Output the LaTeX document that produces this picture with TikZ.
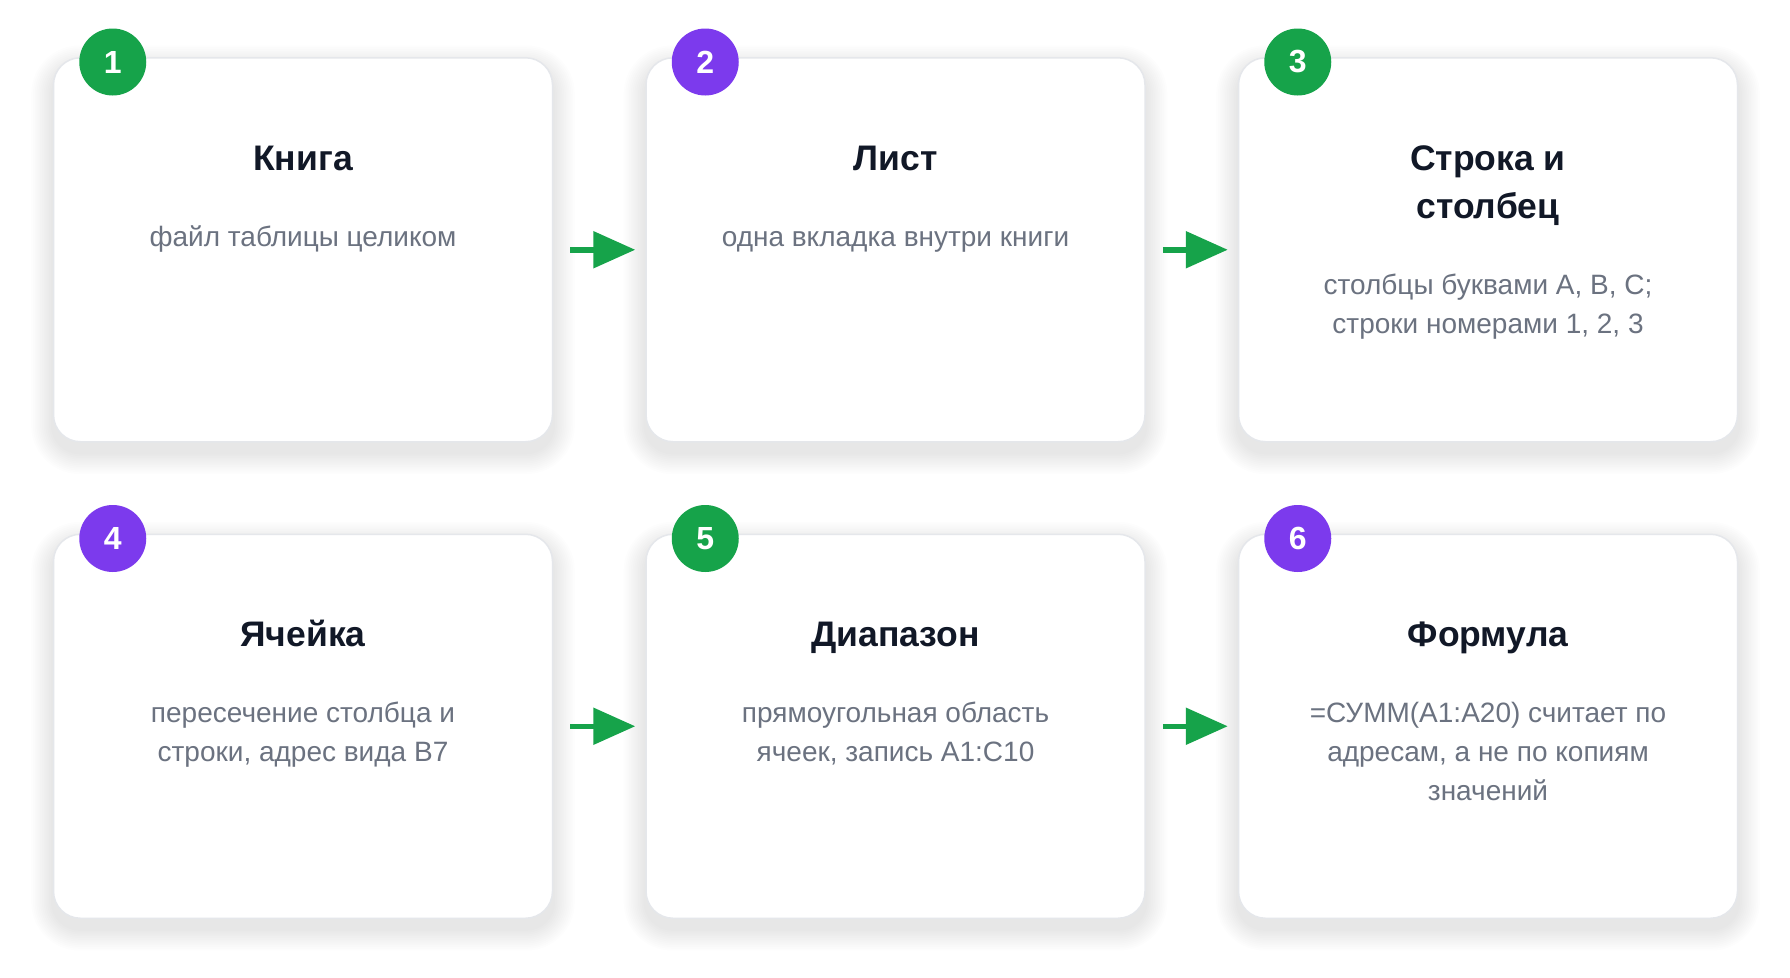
\documentclass[tikz,border=0pt]{standalone}
\usepackage{fontspec}
\setmainfont{Liberation Sans}
\usetikzlibrary{arrows.meta,calc,backgrounds}
\definecolor{grn}{HTML}{16A34A}
\definecolor{vio}{HTML}{7C3AED}
\definecolor{ttl}{HTML}{111827}
\definecolor{subc}{HTML}{6B7280}
\definecolor{bord}{HTML}{E5E7EB}
\definecolor{shd}{HTML}{1F2937}
\newcommand{\ml}[1]{\begin{tabular}[t]{@{}c@{}}#1\end{tabular}}
\begin{document}
\begin{tikzpicture}[x=1pt,y=-1pt,
  card/.style={draw=bord, line width=1.5pt, fill=white, rounded corners=27pt,
    minimum width=499pt, minimum height=384pt, anchor=north west, inner sep=0pt},
  badge/.style={circle, minimum size=67pt, inner sep=0pt, text=white,
    font=\fontsize{32}{32}\selectfont\bfseries},
  ttlstyle/.style={anchor=base, inner sep=0pt, text=ttl, font=\fontsize{35.5}{48}\selectfont\bfseries},
  substyle/.style={anchor=base, inner sep=0pt, text=subc, font=\fontsize{28}{39}\selectfont},
  flow/.style={draw=grn, line width=5.5pt, -{Triangle[length=42pt,width=36pt]}}]
\useasboundingbox (0,0) rectangle (1790,977);

% cards
\node[card] (c1) at (52.75,57) {};
\node[card] (c2) at (645.25,57) {};
\node[card] (c3) at (1237.75,57) {};
\node[card] (c4) at (52.75,533.5) {};
\node[card] (c5) at (645.25,533.5) {};
\node[card] (c6) at (1237.75,533.5) {};

% soft shadows
\begin{pgfonlayer}{background}
\fill[white] (0,0) rectangle (1790,977);
\foreach \c in {c1,c2,c3,c4,c5,c6}{
  \foreach \i in {1,...,12}{
    \fill[shd, opacity=0.006, rounded corners={27pt+1.8pt*\i}]
      ($(\c.north west)+(-1.8*\i,-1.8*\i+10)$) rectangle ($(\c.south east)+(1.8*\i,1.8*\i+10)$);
  }
}
\end{pgfonlayer}

% badges
\node[badge, fill=grn] (b1) at ($(c1.north west)+(60,5)$) {1};
\node[badge, fill=vio] (b2) at ($(c2.north west)+(60,5)$) {2};
\node[badge, fill=grn] (b3) at ($(c3.north west)+(60,5)$) {3};
\node[badge, fill=vio] (b4) at ($(c4.north west)+(60,5)$) {4};
\node[badge, fill=grn] (b5) at ($(c5.north west)+(60,5)$) {5};
\node[badge, fill=vio] (b6) at ($(c6.north west)+(60,5)$) {6};

% titles
\node[ttlstyle] (t1) at ($(c1.north)+(0,113)$) {Книга};
\node[ttlstyle] (t2) at ($(c2.north)+(0,113)$) {Лист};
\node[ttlstyle] (t3) at ($(c3.north)+(0,113)$) {\ml{Строка и\\столбец}};
\node[ttlstyle] (t4) at ($(c4.north)+(0,113)$) {Ячейка};
\node[ttlstyle] (t5) at ($(c5.north)+(0,113)$) {Диапазон};
\node[ttlstyle] (t6) at ($(c6.north)+(0,113)$) {Формула};

% subtitles
\node[substyle] (s1) at ($(c1.north)+(0,189)$) {файл таблицы целиком};
\node[substyle] (s2) at ($(c2.north)+(0,189)$) {одна вкладка внутри книги};
\node[substyle] (s3) at ($(c3.north)+(0,237)$) {\ml{столбцы буквами A, B, C;\\строки номерами 1, 2, 3}};
\node[substyle] (s4) at ($(c4.north)+(0,189)$) {\ml{пересечение столбца и\\строки, адрес вида B7}};
\node[substyle] (s5) at ($(c5.north)+(0,189)$) {\ml{прямоугольная область\\ячеек, запись A1:C10}};
\node[substyle] (s6) at ($(c6.north)+(0,189)$) {\ml{=СУММ(A1:A20) считает по\\адресам, а не по копиям\\значений}};

% arrows
\draw[flow] ($(c1.east)+(17,0)$) -- ($(c2.west)+(-10,0)$);
\draw[flow] ($(c2.east)+(17,0)$) -- ($(c3.west)+(-10,0)$);
\draw[flow] ($(c4.east)+(17,0)$) -- ($(c5.west)+(-10,0)$);
\draw[flow] ($(c5.east)+(17,0)$) -- ($(c6.west)+(-10,0)$);
\end{tikzpicture}
\end{document}
